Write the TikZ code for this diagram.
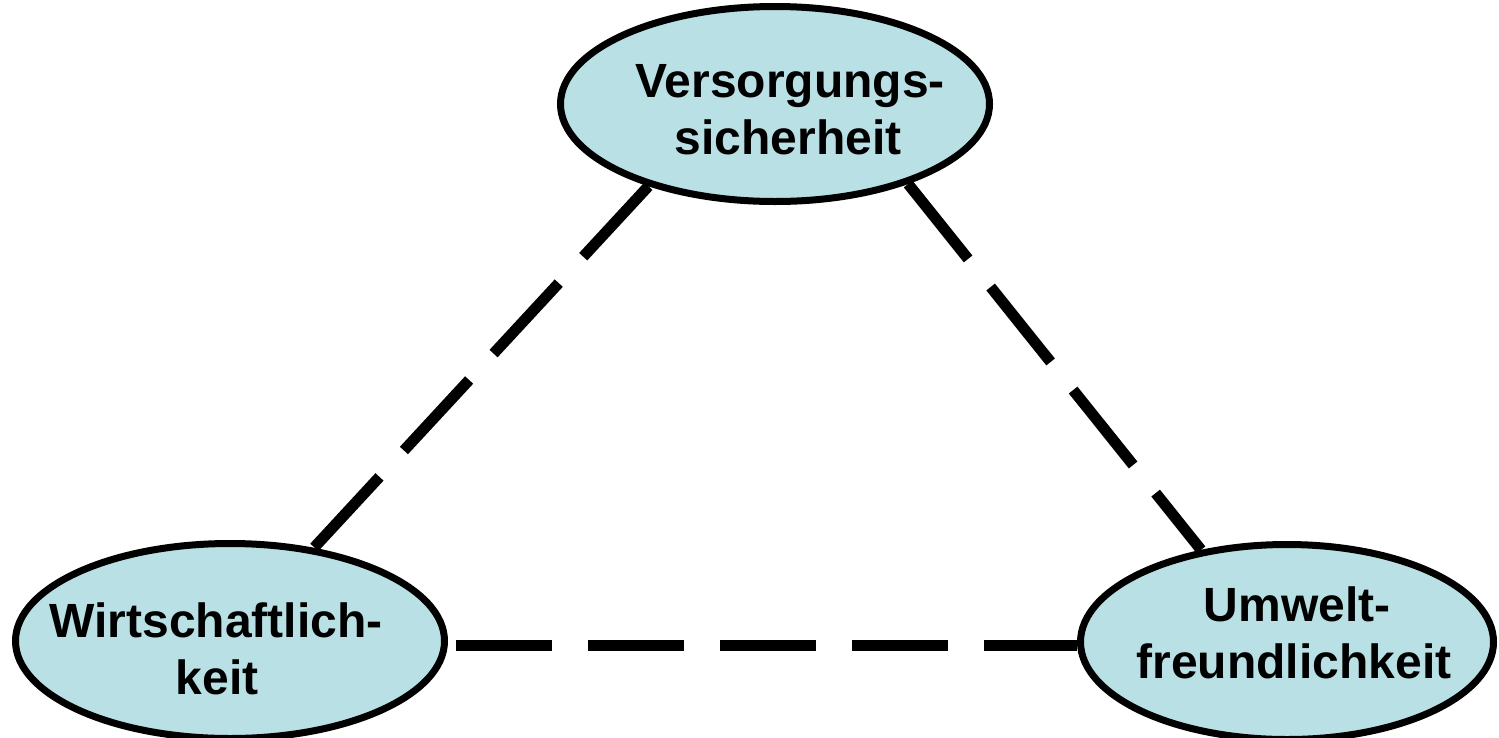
\documentclass[tikz,border=0pt]{standalone}
\usepackage{fontspec}
\setmainfont{Liberation Sans}
\usetikzlibrary{shapes.geometric}
\definecolor{ellfill}{RGB}{185,224,228}
\tikzset{
  goal/.style={ellipse, draw=black, fill=ellfill, line width=7pt, inner sep=0pt,
    minimum width=429pt, minimum height=195pt},
  lbl/.style={inner sep=0pt, anchor=base, font=\bfseries\fontsize{48}{57}\selectfont},
  link/.style={line width=11pt, dash pattern=on 96pt off 36pt}
}
\begin{document}
\begin{tikzpicture}[x=1pt, y=-1pt]
\useasboundingbox[fill=white] (0,0) rectangle (1499,737);
\node[goal] (top) at (775,104) {};
\node[goal] (left) at (230,641) {};
\node[goal, minimum width=413pt] (right) at (1287,642) {};
\draw[link] (top.213.9) -- (left.48.9);
\draw[link] (top.329) -- (right.133.1);
\draw[link] ([xshift=8pt,yshift=-4pt]left.east) -- ([yshift=-3pt]right.west);
\node[lbl] (t1) at (790,97) {Versorgungs-};
\node[lbl] (t2) at (788,154) {sicherheit};
\node[lbl] (l1) at (216,637) {Wirtschaftlich-};
\node[lbl] (l2) at (217,694) {keit};
\node[lbl] (r1) at (1297,621) {Umwelt-};
\node[lbl] (r2) at (1294,678) {freundlichkeit};
\end{tikzpicture}
\end{document}
